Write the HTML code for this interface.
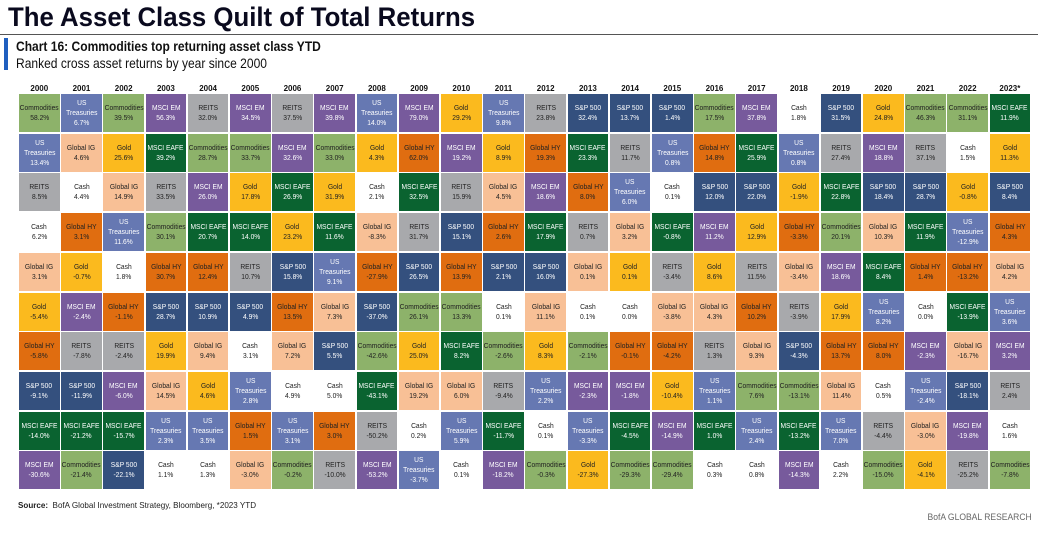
<!DOCTYPE html>
<html><head><meta charset="utf-8">
<style>
body{margin:0;width:1038px;height:534px;background:#fff;font-family:"Liberation Sans",sans-serif;position:relative;overflow:hidden}
#title{position:absolute;left:8px;top:2px;font-size:27px;font-weight:bold;color:#0a0a1e;transform:scaleX(0.955);transform-origin:0 0;white-space:nowrap}
#rule{position:absolute;left:0;top:34px;width:1038px;height:1px;background:#555}
#bar{position:absolute;left:4px;top:38px;width:4px;height:32px;background:#1f5fbf}
#ct{position:absolute;left:16px;top:38px;font-size:14px;font-weight:bold;color:#111;transform:scaleX(0.86);transform-origin:0 0;white-space:nowrap}
#st{position:absolute;left:16px;top:55px;font-size:14px;color:#111;transform:scaleX(0.86);transform-origin:0 0;white-space:nowrap}
.yr{position:absolute;top:84px;font-size:8px;font-weight:bold;text-align:center;color:#111}
.cell{position:absolute;display:flex;flex-direction:column;justify-content:center;align-items:center;text-align:center;font-size:7.6px;line-height:10px;overflow:hidden}
.cell div{transform:scaleX(0.88);white-space:nowrap}
#src{position:absolute;left:18px;top:500px;font-size:8.5px;color:#222;transform:scaleX(0.95);transform-origin:0 0;white-space:nowrap}
#brand{position:absolute;right:6px;top:512px;font-size:9px;color:#666;transform:scaleX(0.95);transform-origin:100% 0}
</style></head><body>
<div id="title">The Asset Class Quilt of Total Returns</div>
<div id="rule"></div>
<div id="bar"></div>
<div id="ct">Chart 16: Commodities top returning asset class YTD</div>
<div id="st">Ranked cross asset returns by year since 2000</div>
<div id="quilt"></div>
<div id="src"><b>Source:</b>&nbsp; BofA Global Investment Strategy, Bloomberg, *2023 YTD</div>
<div id="brand">BofA GLOBAL RESEARCH</div>
<script>
const years=["2000","2001","2002","2003","2004","2005","2006","2007","2008","2009","2010","2011","2012","2013","2014","2015","2016","2017","2018","2019","2020","2021","2022","2023*"];
const assets=[
["Comm","UST","REITS","Cash","GIG","Gold","GHY","SPX","EAFE","EM"],
["UST","GIG","Cash","GHY","Gold","EM","REITS","SPX","EAFE","Comm"],
["Comm","Gold","GIG","UST","Cash","GHY","REITS","EM","EAFE","SPX"],
["EM","EAFE","REITS","Comm","GHY","SPX","Gold","GIG","UST","Cash"],
["REITS","Comm","EM","EAFE","GHY","SPX","GIG","Gold","UST","Cash"],
["EM","Comm","Gold","EAFE","REITS","SPX","Cash","UST","GHY","GIG"],
["REITS","EM","EAFE","Gold","SPX","GHY","GIG","Cash","UST","Comm"],
["EM","Comm","Gold","EAFE","UST","GIG","SPX","Cash","GHY","REITS"],
["UST","Gold","Cash","GIG","GHY","SPX","Comm","EAFE","REITS","EM"],
["EM","GHY","EAFE","REITS","SPX","Comm","Gold","GIG","Cash","UST"],
["Gold","EM","REITS","SPX","GHY","Comm","EAFE","GIG","UST","Cash"],
["UST","Gold","GIG","GHY","SPX","Cash","Comm","REITS","EAFE","EM"],
["REITS","GHY","EM","EAFE","SPX","GIG","Gold","UST","Cash","Comm"],
["SPX","EAFE","GHY","REITS","GIG","Cash","Comm","EM","UST","Gold"],
["SPX","REITS","UST","GIG","Gold","Cash","GHY","EM","EAFE","Comm"],
["SPX","UST","Cash","EAFE","REITS","GIG","GHY","Gold","EM","Comm"],
["Comm","GHY","SPX","EM","Gold","GIG","REITS","UST","EAFE","Cash"],
["EM","EAFE","SPX","Gold","REITS","GHY","GIG","Comm","UST","Cash"],
["Cash","UST","Gold","GHY","GIG","REITS","SPX","Comm","EAFE","EM"],
["SPX","REITS","EAFE","Comm","EM","Gold","GHY","GIG","UST","Cash"],
["Gold","EM","SPX","GIG","EAFE","UST","GHY","Cash","REITS","Comm"],
["Comm","REITS","SPX","EAFE","GHY","Cash","EM","UST","GIG","Gold"],
["Comm","Cash","Gold","UST","GHY","EAFE","GIG","SPX","EM","REITS"],
["EAFE","Gold","SPX","GHY","GIG","UST","EM","REITS","Cash","Comm"]];
const returns=[
[58.2,13.4,8.5,6.2,3.1,-5.4,-5.8,-9.1,-14.0,-30.6],
[6.7,4.6,4.4,3.1,-0.7,-2.4,-7.8,-11.9,-21.2,-21.4],
[39.5,25.6,14.9,11.6,1.8,-1.1,-2.4,-6.0,-15.7,-22.1],
[56.3,39.2,33.5,30.1,30.7,28.7,19.9,14.5,2.3,1.1],
[32.0,28.7,26.0,20.7,12.4,10.9,9.4,4.6,3.5,1.3],
[34.5,33.7,17.8,14.0,10.7,4.9,3.1,2.8,1.5,-3.0],
[37.5,32.6,26.9,23.2,15.8,13.5,7.2,4.9,3.1,-0.2],
[39.8,33.0,31.9,11.6,9.1,7.3,5.5,5.0,3.0,-10.0],
[14.0,4.3,2.1,-8.3,-27.9,-37.0,-42.6,-43.1,-50.2,-53.2],
[79.0,62.0,32.5,31.7,26.5,26.1,25.0,19.2,0.2,-3.7],
[29.2,19.2,15.9,15.1,13.9,13.3,8.2,6.0,5.9,0.1],
[9.8,8.9,4.5,2.6,2.1,0.1,-2.6,-9.4,-11.7,-18.2],
[23.8,19.3,18.6,17.9,16.0,11.1,8.3,2.2,0.1,-0.3],
[32.4,23.3,8.0,0.7,0.1,0.1,-2.1,-2.3,-3.3,-27.3],
[13.7,11.7,6.0,3.2,0.1,0.0,-0.1,-1.8,-4.5,-29.3],
[1.4,0.8,0.1,-0.8,-3.4,-3.8,-4.2,-10.4,-14.9,-29.4],
[17.5,14.8,12.0,11.2,8.6,4.3,1.3,1.1,1.0,0.3],
[37.8,25.9,22.0,12.9,11.5,10.2,9.3,7.6,2.4,0.8],
[1.8,0.8,-1.9,-3.3,-3.4,-3.9,-4.3,-13.1,-13.2,-14.3],
[31.5,27.4,22.8,20.1,18.6,17.9,13.7,11.4,7.0,2.2],
[24.8,18.8,18.4,10.3,8.4,8.2,8.0,0.5,-4.4,-15.0],
[46.3,37.1,28.7,11.9,1.4,0.0,-2.3,-2.4,-3.0,-4.1],
[31.1,1.5,-0.8,-12.9,-13.2,-13.9,-16.7,-18.1,-19.8,-25.2],
[11.9,11.3,8.4,4.3,4.2,3.6,3.2,2.4,1.6,-7.8]];
const labels={Comm:"Commodities",UST:"US<br>Treasuries",GIG:"Global IG",Gold:"Gold",EM:"MSCI EM",EAFE:"MSCI EAFE",REITS:"REITS",Cash:"Cash",GHY:"Global HY",SPX:"S&amp;P 500"};
const fills={Comm:"#8db26a",UST:"#6678b2",GIG:"#f8c096",Gold:"#fbba1e",EM:"#775a9c",EAFE:"#0a6330",REITS:"#a8a9ac",Cash:"#ffffff",GHY:"#e06d10",SPX:"#34507e"};
const inks={Comm:"#222",UST:"#fff",GIG:"#222",Gold:"#222",EM:"#fff",EAFE:"#fff",REITS:"#222",Cash:"#222",GHY:"#222",SPX:"#fff"};
const x0=19,pitchX=42.2,cw=40.6,y0=94,pitchY=39.7,ch=38;
const xPos=i=>x0+i*pitchX, yPos=r=>y0+r*pitchY;
const q=document.getElementById('quilt');
years.forEach((y,i)=>{
  const h=document.createElement('div');h.className='yr';
  
  
  h.style.left=xPos(i)+'px';h.style.width=cw+'px';h.textContent=y;q.appendChild(h);
  assets[i].forEach((a,r)=>{
    const c=document.createElement('div');c.className='cell';
    
    
    c.style.left=xPos(i)+'px';c.style.top=yPos(r)+'px';c.style.width=cw+'px';c.style.height=ch+'px';
    c.style.background=fills[a];c.style.color=inks[a];
    c.innerHTML='<div>'+labels[a]+'</div><div>'+returns[i][r].toFixed(1)+'%</div>';
    q.appendChild(c);
  });
});
</script>
</body></html>
